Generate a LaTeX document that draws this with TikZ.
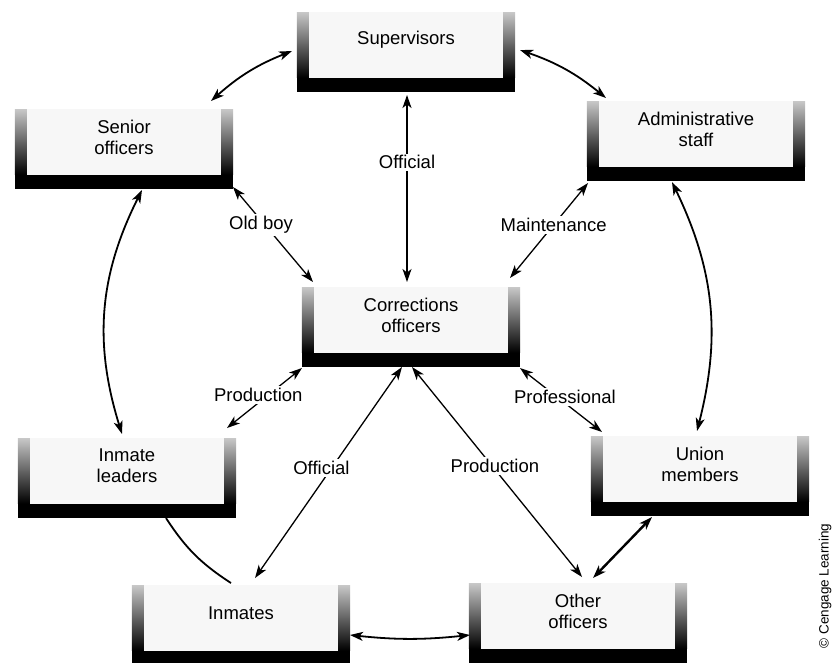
\documentclass[tikz,border=0pt]{standalone}
\usepackage{fontspec}
\setmainfont{Liberation Sans}
\usetikzlibrary{calc,arrows.meta,backgrounds}
\newcommand\fs{\fontsize{18.5}{21}\selectfont}
\begin{document}
\begin{tikzpicture}[x=1pt,y=-1pt,
  tray/.style={minimum width=218pt, minimum height=55pt, inner sep=0pt, align=center, font=\fs},
  lbl/.style={fill=white, inner sep=2pt, font=\fs},
  tip/.tip={Stealth[length=13pt,width=9pt,inset=3.5pt]},
  conn/.style={draw, line width=1.3pt, tip-tip},
  arc/.style={draw, line width=1.8pt, tip-tip},
  side/.style={top color=black!22, middle color=black!45, bottom color=black},
  ]
\useasboundingbox (0,0) rectangle (834,662);
\clip (0,0) rectangle (834,662);

% nodes
\node[tray] (sup) at (406,40)  {Supervisors};
\node[tray] (sen) at (124,137) {Senior\\officers};
\node[tray] (adm) at (696,129) {Administrative\\staff};
\node[tray] (cor) at (411,315) {Corrections\\officers};
\node[tray] (inl) at (127,466) {Inmate\\leaders};
\node[tray] (uni) at (700,464) {Union\\members};
\node[tray] (inm) at (241,613) {Inmates};
\node[tray] (oth) at (578,611) {Other\\officers};

% trays
\foreach \n in {sup,sen,adm,cor,inl,uni,inm,oth}{
  \begin{scope}[on background layer]
    \fill[black!3] (\n.north west) rectangle ($(\n.south east)+(0,10)$);
  \end{scope}
  \shade[side] (\n.north west) rectangle ($(\n.south west)+(12,10)$);
  \shade[side] ($(\n.north east)+(-12,0)$) rectangle ($(\n.south east)+(0,10)$);
  \fill[black] ($(\n.south west)+(0,10)$) rectangle ($(\n.south east)+(0,24)$);
}

% outer ring
\draw[arc] ($(sen)+(87,-36)$) to[bend left=10] ($(sup)+(-114,11)$);
\draw[arc] ($(sup)+(114,10)$) to[bend left=10] ($(adm)+(-90,-31)$);
\draw[arc] ($(sen)+(18,53)$) to[bend right=22] ($(inl)+(-5,-32)$);
\draw[arc] ($(adm)+(-24,53)$) to[bend left=20] ($(uni)+(-3,-33)$);
\draw[line width=2.4pt, tip-tip] ($(uni)+(-48,53)$) -- ($(oth)+(15,-33)$);
\draw[arc] ($(inm)+(109,22)$) to[bend right=6] ($(oth)+(-108,24)$);
\draw[line width=1.8pt] ($(inl)+(39,52)$) to[bend right=12] ($(inm)+(-10,-30)$);

% spokes
\draw[conn] ($(sup)+(1,55)$) -- node[lbl, pos=0.36] (l1) {Official} ($(cor)+(-4,-33)$);
\draw[conn] ($(sen)+(109,50)$) -- node[lbl, pos=0.4, xshift=-4pt] (l2) {Old boy} ($(cor)+(-98,-33)$);
\draw[conn] ($(adm)+(-108,54)$) -- node[lbl, pos=0.44] (l3) {Maintenance} ($(cor)+(99,-37)$);
\draw[conn] ($(cor)+(-109,53)$) -- node[lbl, pos=0.45, xshift=-10pt] (l4) {Production} ($(inl)+(100,-38)$);
\draw[conn] ($(cor)+(109,53)$) -- node[lbl, pos=0.45, xshift=8pt] (l5) {Professional} ($(uni)+(-98,-32)$);
\draw[conn] ($(cor)+(-9,52)$) -- node[lbl, pos=0.48, xshift=-10pt] (l6) {Official} ($(inm)+(14,-35)$);
\draw[conn] ($(cor)+(1,52)$) -- node[lbl, pos=0.47, xshift=3pt] (l7) {Production} ($(oth)+(4,-34)$);

\node[rotate=90, font=\fontsize{13.5}{15}\selectfont] (cr) at (825,586) {© Cengage Learning};
\end{tikzpicture}
\end{document}
